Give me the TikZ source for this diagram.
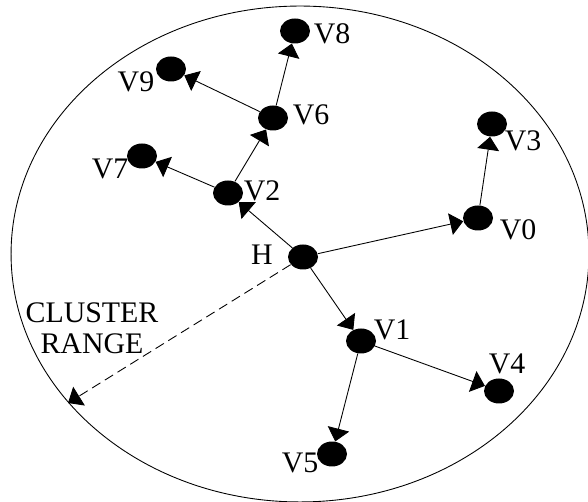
\documentclass[tikz,border=0pt]{standalone}
\usepackage{fontspec}
\setmainfont{Liberation Serif}
\usetikzlibrary{shapes.geometric,arrows.meta}

\begin{document}
\begin{tikzpicture}[x=0.02cm,y=-0.02cm,
        vertex/.style={ellipse, fill=black, inner sep=0pt, minimum width=0.6cm, minimum height=0.5cm},
        tag/.style={inner sep=0pt, font=\fontsize{17}{17.6}\selectfont},
        link/.style={line width=0.5pt, -{Triangle[length=0.26cm,width=0.44cm]}}]
                \useasboundingbox (0,0) rectangle (588,502);
                % cluster boundary
                \draw[line width=0.5pt] (300,254) ellipse [x radius=5.78cm, y radius=4.96cm];
                % head and members
                \node[vertex] (H) at (303,257) {};
                \node[vertex] (V0) at (478,218) {};
                \node[vertex] (V1) at (361,341) {};
                \node[vertex] (V2) at (228,193) {};
                \node[vertex] (V3) at (492,124) {};
                \node[vertex] (V4) at (499,391) {};
                \node[vertex] (V5) at (332,454) {};
                \node[vertex] (V6) at (273,118) {};
                \node[vertex] (V7) at (142,156) {};
                \node[vertex] (V8) at (295,31) {};
                \node[vertex] (V9) at (171,69) {};
                % names
                \node[tag] (tH) at (262,255) {H};
                \node[tag] (t0) at (518,230) {V0};
                \node[tag] (t1) at (392,330) {V1};
                \node[tag] (t2) at (262,191) {V2};
                \node[tag] (t3) at (523,141) {V3};
                \node[tag] (t4) at (507,364) {V4};
                \node[tag] (t5) at (300,463) {V5};
                \node[tag] (t6) at (311,115) {V6};
                \node[tag] (t7) at (110,169) {V7};
                \node[tag] (t8) at (332,34) {V8};
                \node[tag] (t9) at (136,82) {V9};
                \node[tag, align=center] (range) at (92,328) {CLUSTER\\RANGE};
                % links
                \draw[link] (H) -- (V2);
                \draw[link] (V2) -- (V7);
                \draw[link] (V2) -- (V6);
                \draw[link] (V6) -- (V9);
                \draw[link] (V6) -- (V8);
                \draw[link] (H) -- (V0);
                \draw[link] (V0) -- (V3);
                \draw[link] (H) -- (V1);
                \draw[link] (V1) -- (V4);
                \draw[link] (V1) -- (V5);
                \coordinate (edge) at (68,403);
                \draw[link, dash pattern=on 5.5pt off 3pt] (H) -- (edge);
\end{tikzpicture}
\end{document}
